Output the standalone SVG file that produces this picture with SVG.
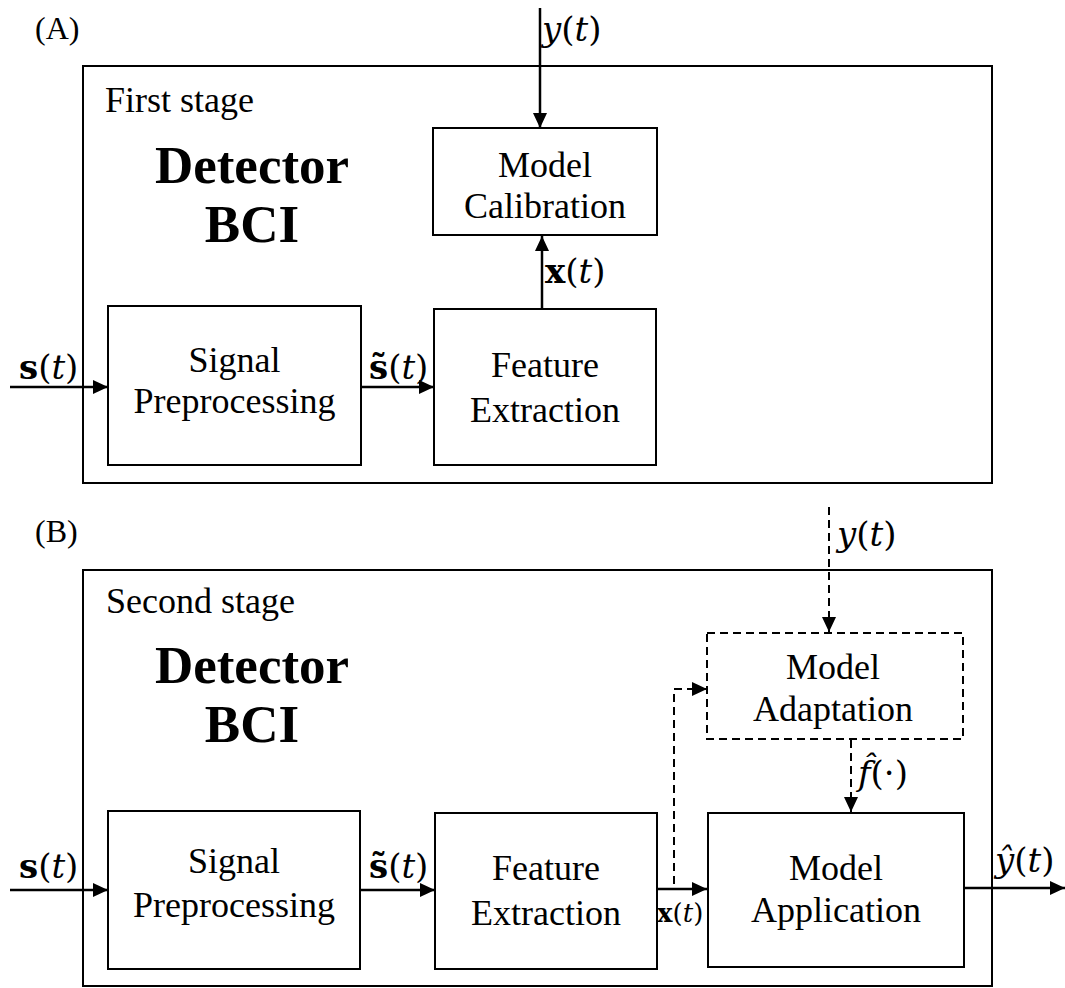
<svg xmlns="http://www.w3.org/2000/svg" width="1065" height="988" viewBox="0 0 1065 988">
<style>
.frame{fill:none;stroke:#000;stroke-width:2}
.box{fill:#fff;stroke:#000;stroke-width:2}
.dbox{fill:#fff;stroke:#000;stroke-width:2;stroke-dasharray:8 5}
.lbl{font-family:"Liberation Serif","Times New Roman",serif;font-size:36px;fill:#000;text-anchor:middle}
.stage{font-family:"Liberation Serif","Times New Roman",serif;font-size:36px;fill:#000}
.tag{font-family:"Liberation Serif","Times New Roman",serif;font-size:32px;fill:#000}
.big{font-family:"Liberation Serif","Times New Roman",serif;font-size:53px;font-weight:bold;fill:#000;text-anchor:middle}
.math{font-family:"DejaVu Serif",serif;font-size:34px;fill:#000}
.maths{font-family:"DejaVu Serif",serif;font-size:26px;fill:#000}
.it{font-style:italic}
.bf{font-weight:bold}
.conn{fill:none;stroke:#000;stroke-width:2.5}
.dconn{fill:none;stroke:#000;stroke-width:2;stroke-dasharray:8 5}
</style>
<defs>
<marker id="ah" markerUnits="userSpaceOnUse" markerWidth="16" markerHeight="14" refX="15" refY="7" orient="auto">
<path d="M0,0 L15,7 L0,14 z" fill="#000"/>
</marker>
</defs>

<!-- Panel A -->
<g id="panelA">
<text class="tag" x="35" y="39">(A)</text>
<rect class="frame" x="83" y="66" width="909" height="417"/>
<text class="stage" x="105" y="112">First stage</text>
<text class="big" x="252" y="183">Detector</text>
<text class="big" x="252" y="242">BCI</text>
</g>
<g id="calibA">
<rect class="box" x="433" y="128" width="224" height="107"/>
<text class="lbl" x="545" y="177">Model</text>
<text class="lbl" x="545" y="218">Calibration</text>
</g>
<g id="preprocA">
<rect class="box" x="108" y="306" width="253" height="159"/>
<text class="lbl" x="234.5" y="372">Signal</text>
<text class="lbl" x="234.5" y="413">Preprocessing</text>
</g>
<g id="featA">
<rect class="box" x="434" y="309" width="222" height="156"/>
<text class="lbl" x="545" y="377">Feature</text>
<text class="lbl" x="545" y="422">Extraction</text>
</g>

<!-- Panel B -->
<g id="panelB">
<text class="tag" x="35" y="542">(B)</text>
<rect class="frame" x="83" y="570" width="909" height="416"/>
<text class="stage" x="106" y="613">Second stage</text>
<text class="big" x="252" y="683">Detector</text>
<text class="big" x="252" y="742">BCI</text>
</g>
<g id="adaptB">
<rect class="dbox" x="707" y="633" width="256" height="106"/>
<text class="lbl" x="833" y="679">Model</text>
<text class="lbl" x="833" y="721">Adaptation</text>
</g>
<g id="preprocB">
<rect class="box" x="108" y="811" width="252" height="158"/>
<text class="lbl" x="234" y="873">Signal</text>
<text class="lbl" x="234" y="917">Preprocessing</text>
</g>
<g id="featB">
<rect class="box" x="435" y="813" width="222" height="156"/>
<text class="lbl" x="546" y="880">Feature</text>
<text class="lbl" x="546" y="925">Extraction</text>
</g>
<g id="applB">
<rect class="box" x="708" y="813" width="256" height="154"/>
<text class="lbl" x="836" y="880">Model</text>
<text class="lbl" x="836" y="922">Application</text>
</g>

<!-- Connectors -->
<g id="connectors">
<path class="conn" d="M540,8 V128" marker-end="url(#ah)"/>
<path class="conn" d="M10,387 H108" marker-end="url(#ah)"/>
<path class="conn" d="M361,387 H434" marker-end="url(#ah)"/>
<path class="conn" d="M542,309 V236" marker-end="url(#ah)"/>

<path class="dconn" d="M829,507 V632" marker-end="url(#ah)"/>
<path class="conn" d="M10,890 H108" marker-end="url(#ah)"/>
<path class="conn" d="M360,890 H435" marker-end="url(#ah)"/>
<path class="conn" d="M657,889 H707" marker-end="url(#ah)"/>
<path class="dconn" d="M674,884 V689 H707" marker-end="url(#ah)"/>
<path class="dconn" d="M851,740 V812" marker-end="url(#ah)"/>
<path class="conn" d="M964,888 H1065" marker-end="url(#ah)"/>
</g>

<!-- Connector labels -->
<g id="labels">
<text class="math" x="542" y="41"><tspan class="it">y</tspan>(<tspan class="it">t</tspan>)</text>
<text class="math" x="545" y="283"><tspan class="bf">x</tspan>(<tspan class="it">t</tspan>)</text>
<text class="math" x="19" y="379"><tspan class="bf">s</tspan>(<tspan class="it">t</tspan>)</text>
<text class="math" x="369" y="379"><tspan class="bf">s̃</tspan>(<tspan class="it">t</tspan>)</text>

<text class="math" x="837" y="546"><tspan class="it">y</tspan>(<tspan class="it">t</tspan>)</text>
<text class="math" x="858" y="785"><tspan class="it">f̂</tspan>(·)</text>
<text class="math" x="19" y="878"><tspan class="bf">s</tspan>(<tspan class="it">t</tspan>)</text>
<text class="math" x="369" y="878"><tspan class="bf">s̃</tspan>(<tspan class="it">t</tspan>)</text>
<text class="maths" x="657" y="922"><tspan class="bf">x</tspan>(<tspan class="it">t</tspan>)</text>
<text class="math" x="995" y="872"><tspan class="it">ŷ</tspan>(<tspan class="it">t</tspan>)</text>
</g>
</svg>
